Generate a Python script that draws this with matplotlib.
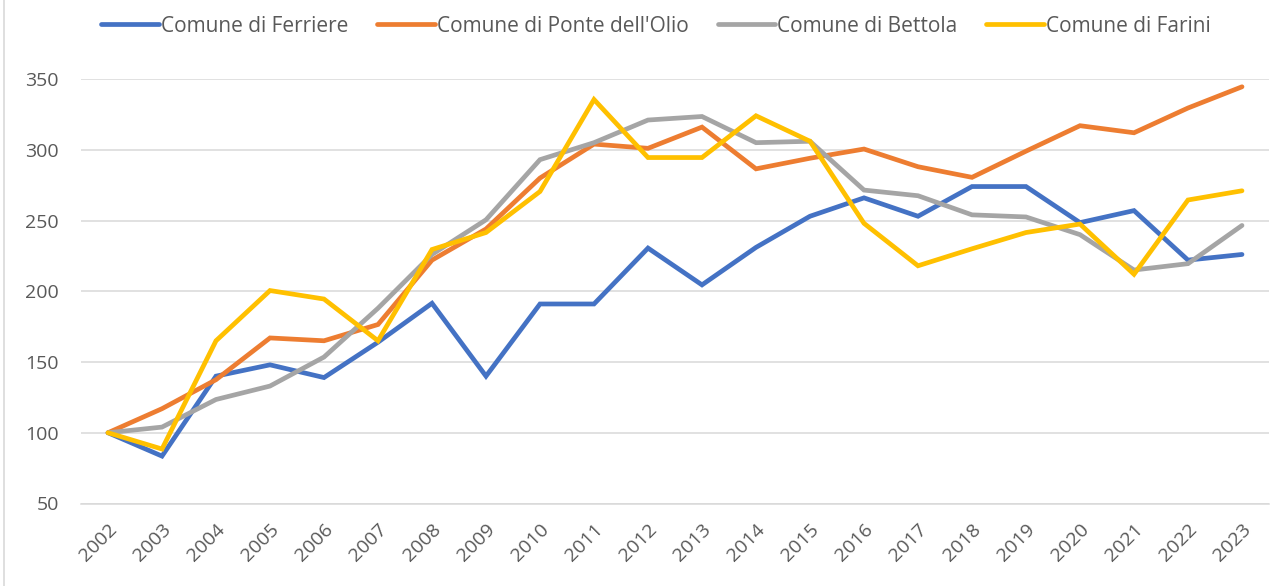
import matplotlib
matplotlib.use("Agg")
import matplotlib.pyplot as plt
from matplotlib.lines import Line2D

plt.rcParams['font.family'] = ['Open Sans', 'DejaVu Sans']

years = list(range(2002, 2024))
ferriere = [100, 83.5, 140, 148, 139, 164, 191.5, 140, 191, 191, 230.5, 204.5, 231, 253, 266, 253, 274, 274, 248.5, 257, 222, 226]
ponte = [100, 117, 137.5, 167, 165, 176.5, 222, 244, 280, 304, 301, 316, 286.5, 294, 300.5, 288, 280.5, 299, 317, 312, 329.5, 344.5]
bettola = [100, 104, 123.5, 133, 153.5, 188, 226, 250.5, 293, 305, 321, 323.5, 305, 306, 271.5, 267.5, 254, 252.5, 240, 215, 219.5, 246.5]
farini = [100, 88.5, 165, 200.5, 194.5, 165, 229.5, 241.5, 270.5, 335.5, 294.5, 294.5, 324, 306, 248, 218, 230, 241.5, 247.5, 212, 264.5, 271]

labels = ["Comune di Ferriere", "Comune di Ponte dell'Olio", "Comune di Bettola", "Comune di Farini"]
colors = ["#4472C4", "#ED7D31", "#A5A5A5", "#FFC000"]
yticks = [50, 100, 150, 200, 250, 300, 350]

fig = plt.figure(figsize=(12.71, 5.86), dpi=100)
ax = fig.add_axes([81/1271, 1 - 503.5/586, (1269 - 81)/1271, (503.5 - 79)/586])

for series, lab, col in zip([ferriere, ponte, bettola, farini], labels, colors):
    ax.plot(years, series, color=col, lw=3.4, label=lab,
            solid_capstyle='round', solid_joinstyle='miter')

ax.set_xlim(2001.5, 2023.5)
ax.set_ylim(50, 350)
ax.set_yticks(yticks)
ax.set_yticklabels([str(v) for v in yticks])
ax.set_xticks(years)
ax.set_xticklabels([str(y) for y in years], rotation=45, ha='right',
                   rotation_mode='anchor')
ax.grid(axis='y', color='#D9D9D9', lw=1.1)
ax.set_axisbelow(True)
for s in ['left', 'right', 'top']:
    ax.spines[s].set_visible(False)
ax.spines['bottom'].set_color('#D9D9D9')
ax.spines['bottom'].set_linewidth(1.1)
ax.tick_params(axis='y', length=0, pad=16, labelsize=14, labelcolor='#595959')
ax.tick_params(axis='x', length=0, pad=12, labelsize=14, labelcolor='#595959')

leg = fig.legend(loc='center', bbox_to_anchor=(656/1271, 1 - 26/586), ncol=4,
                 frameon=False, fontsize=15, handlelength=2.75, handletextpad=0.1,
                 columnspacing=1.4, labelcolor='#595959')
for h in leg.get_lines():
    h.set_linewidth(3.4)
    h.set_solid_capstyle('round')

fig.add_artist(Line2D([4/1271, 4/1271], [0, 1], color='#D9D9D9', lw=1.2,
                      transform=fig.transFigure))

fig.savefig("out.png", dpi=100, facecolor='white')
